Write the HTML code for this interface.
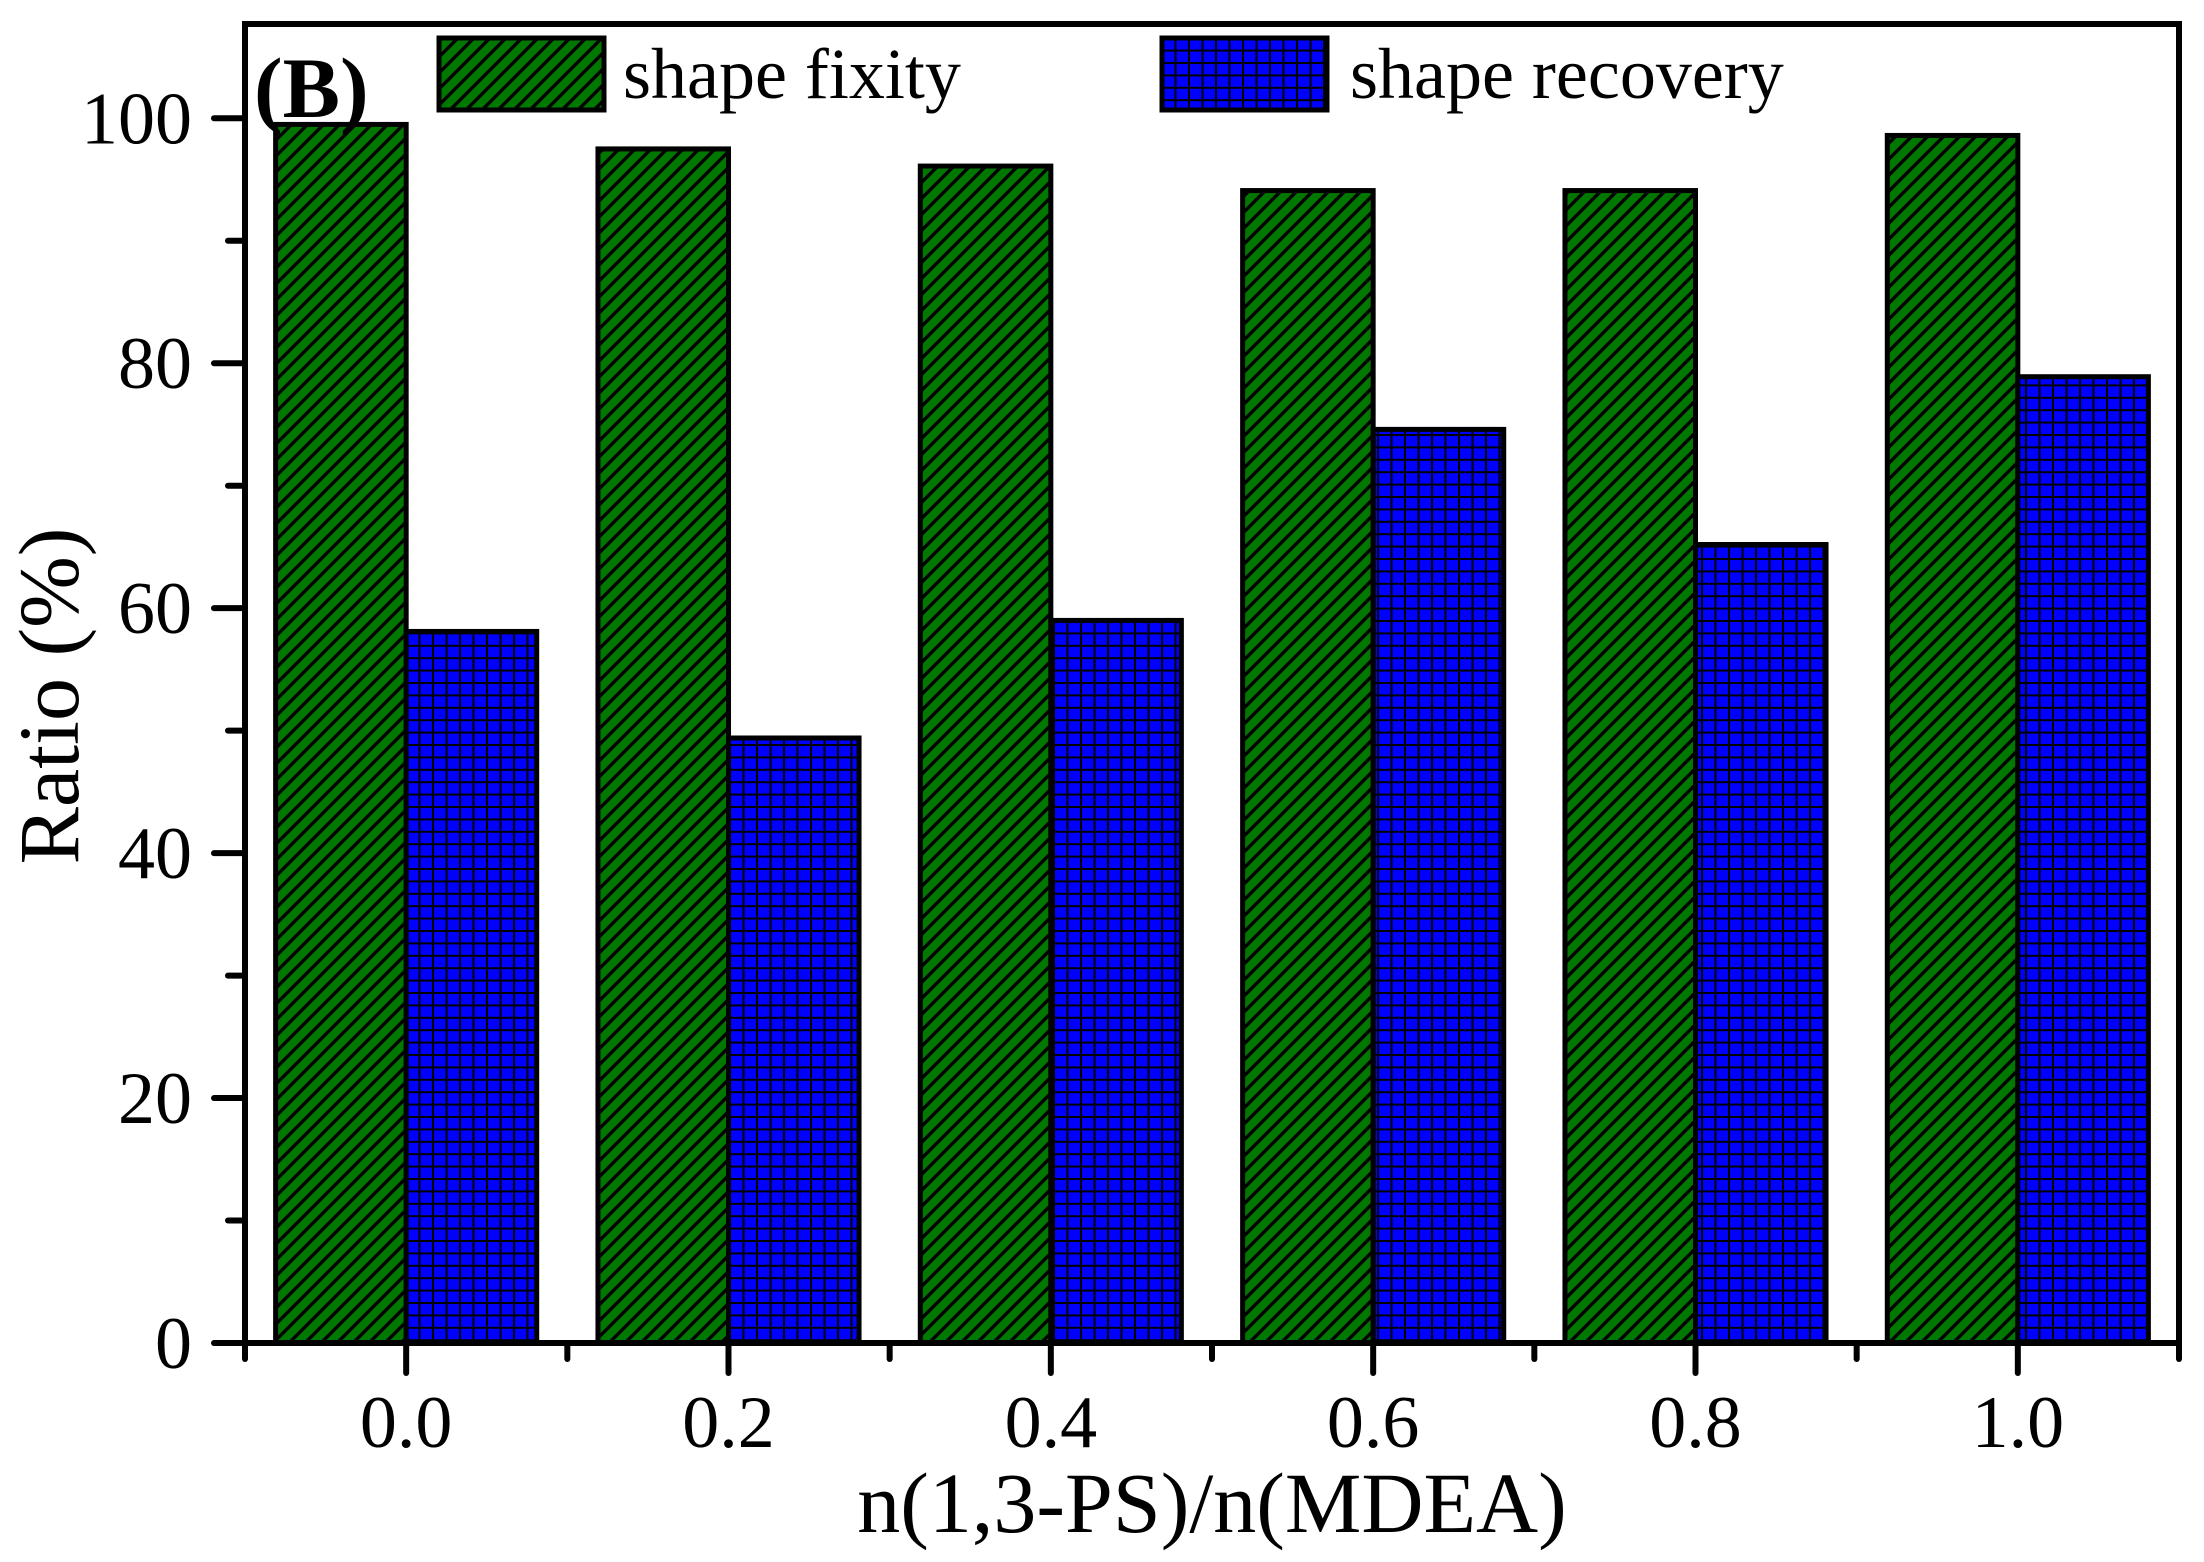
<!DOCTYPE html>
<html><head><meta charset="utf-8">
<style>
html,body{margin:0;padding:0;background:#fff;}
svg{display:block;}
text{font-family:"Liberation Serif",serif;fill:#000;}
</style></head>
<body>
<svg id="chart" width="2204" height="1562" viewBox="0 0 2204 1562" xmlns="http://www.w3.org/2000/svg">
<defs>
<pattern id="hatch" patternUnits="userSpaceOnUse" width="16" height="16">
<rect width="16" height="16" fill="#007800"/>
<path d="M-4,4 L4,-4 M0,16 L16,0 M12,20 L20,12" stroke="#000" stroke-width="3.4"/>
</pattern>
<pattern id="grid" patternUnits="userSpaceOnUse" width="13.5" height="12.4">
<rect width="13.5" height="12.4" fill="#0000ff"/>
<path d="M0,0 H13.5 M0,0 V12.4" stroke="#000" stroke-width="4"/>
</pattern>
</defs>
<g id="plot"></g>
</svg>
<script>
const categories = [0.0, 0.2, 0.4, 0.6, 0.8, 1.0];
const categoryLabels = ["0.0", "0.2", "0.4", "0.6", "0.8", "1.0"];
const shapeFixity = [99.5, 97.5, 96.1, 94.1, 94.1, 98.6];
const shapeRecovery = [58.1, 49.4, 59.0, 74.6, 65.2, 78.9];
const yTicks = [0, 20, 40, 60, 80, 100];
const yTickLabels = ["0", "20", "40", "60", "80", "100"];

const L = 245, R = 2179, T = 24, B = 1343;
const xMin = -0.1, xMax = 1.1, yMin = 0, yMax = 107.7;
function xs(v){ return L + (v - xMin) / (xMax - xMin) * (R - L); }
function ys(v){ return B - (v - yMin) / (yMax - yMin) * (B - T); }
const barW = 0.081;
const NS = "http://www.w3.org/2000/svg";
const g = document.getElementById('plot');
function mk(tag, attrs){ const e = document.createElementNS(NS, tag); for (const k in attrs) e.setAttribute(k, attrs[k]); g.appendChild(e); return e; }

categories.forEach((c, i) => {
  const x0 = xs(c - barW), x1 = xs(c), x2 = xs(c + barW);
  const gy = ys(shapeFixity[i]);
  const r1 = mk('rect', {x: x0, y: gy, width: x1 - x0, height: B - gy, fill: 'url(#hatch)', stroke: '#000', 'stroke-width': 5});
  
  
  const by = ys(shapeRecovery[i]);
  const r2 = mk('rect', {x: x1, y: by, width: x2 - x1, height: B - by, fill: 'url(#grid)', stroke: '#000', 'stroke-width': 5});
  
  
});

const frame = mk('rect', {x: L, y: T, width: R - L, height: B - T, fill: 'none', stroke: '#000', 'stroke-width': 6});



for (let v = 0; v <= 100; v += 10) {
  const major = v % 20 === 0;
  const t = mk('line', {x1: L - (major ? 31 : 17), x2: L, y1: ys(v), y2: ys(v), stroke: '#000', 'stroke-width': 6, 'stroke-linecap': 'round'});
  
  
}
yTicks.forEach((v, i) => {
  const t = mk('text', {x: 192, y: ys(v) + 25, 'text-anchor': 'end', 'font-size': 74});
  t.textContent = yTickLabels[i];
  
  
});
for (let k = -1; k <= 11; k++) {
  const v = k / 10;
  const major = k % 2 === 0;
  const t = mk('line', {x1: xs(v), x2: xs(v), y1: B, y2: B + (major ? 30 : 16), stroke: '#000', 'stroke-width': 6, 'stroke-linecap': 'round'});
  
  
}
categories.forEach((c, i) => {
  const t = mk('text', {x: xs(c), y: 1447, 'text-anchor': 'middle', 'font-size': 74});
  t.textContent = categoryLabels[i];
  
  
});
const xt = mk('text', {x: 1212, y: 1532, 'text-anchor': 'middle', 'font-size': 86});
xt.textContent = 'n(1,3-PS)/n(MDEA)';


const yt = mk('text', {x: 0, y: 0, 'text-anchor': 'middle', 'font-size': 86, transform: 'translate(78,696) rotate(-90)'});
yt.textContent = 'Ratio (%)';


const pl = mk('text', {x: 254, y: 117, 'font-size': 86, 'font-weight': 'bold'});
pl.textContent = '(B)';


const lg1 = mk('rect', {x: 439, y: 38, width: 165, height: 72, fill: 'url(#hatch)', stroke: '#000', 'stroke-width': 5});


const lt1 = mk('text', {x: 623, y: 98, 'font-size': 72});
lt1.textContent = 'shape fixity';


const lg2 = mk('rect', {x: 1162, y: 38, width: 165, height: 72, fill: 'url(#grid)', stroke: '#000', 'stroke-width': 5});


const lt2 = mk('text', {x: 1350, y: 98, 'font-size': 72});
lt2.textContent = 'shape recovery';


</script>
</body></html>
